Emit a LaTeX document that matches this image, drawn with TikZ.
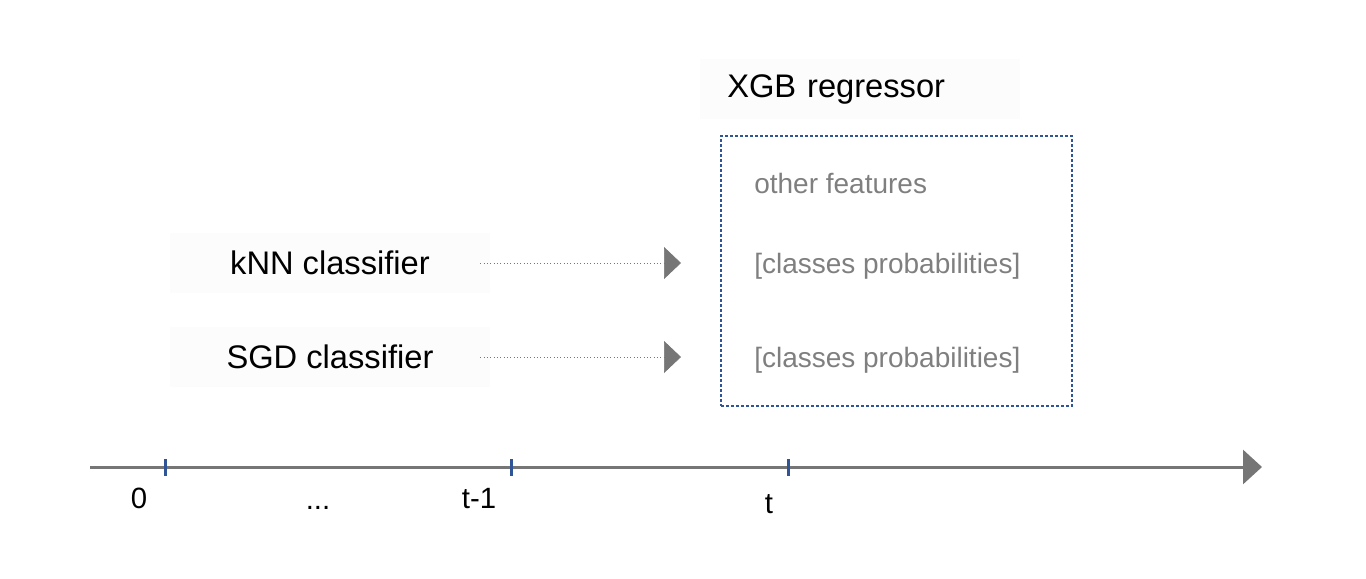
\documentclass[tikz,border=0pt]{standalone}
\usepackage{fontspec}
\setmainfont{Liberation Sans}
\usetikzlibrary{arrows.meta}

\definecolor{axisgrey}{HTML}{767676}
\definecolor{textgrey}{HTML}{7F7F7F}
\definecolor{tickblue}{HTML}{2F5597}
\definecolor{faint}{HTML}{FCFCFD}

\begin{document}
\begin{tikzpicture}[x=0.75pt,y=-0.75pt]
        \tikzset{model/.style = {fill=faint,inner sep=0pt,minimum height=45pt,font=\fontsize{24.5}{28}\selectfont}};
        \tikzset{feat/.style = {anchor=base west,inner sep=0pt,text=textgrey,font=\fontsize{21}{24}\selectfont}};
        \tikzset{tlabel/.style = {anchor=base,inner sep=0pt,font=\fontsize{22}{26}\selectfont}};
        \tikzset{feed/.style = {draw=axisgrey,dotted,line width=0.5pt,-{Triangle[length=12.75pt,width=24pt]},shorten <=-7.5pt,shorten >=54.75pt}};
        \tikzset{axis/.style = {draw=axisgrey,line width=2.25pt,-{Triangle[length=14.25pt,width=25.5pt]}}};
        \useasboundingbox (0,0) rectangle (1366,578);
        % models
        \node[model,minimum width=240pt] (knn) at (330,263) {kNN classifier};
        \node[model,minimum width=240pt] (sgd) at (330,357) {SGD classifier};
        \node[model,anchor=west,inner xsep=20.25pt,text width=199.5pt] (xgb) at (700,89) {XGB regressor};
        % regressor inputs
        \node[draw=tickblue,line width=0.9pt,dash pattern=on 2.25pt off 1.5pt,minimum width=263.25pt,minimum height=202.5pt] (box) at (896.5,271) {};
        \node[feat] (other) at (754,193) {other features};
        \node[feat] (prob1) at (754,273) {[classes probabilities]};
        \node[feat] (prob2) at (754,367) {[classes probabilities]};
        \draw[feed] (knn.east) -- (knn.east -| prob1.west);
        \draw[feed] (sgd.east) -- (sgd.east -| prob2.west);
        % time axis
        \coordinate (tstart) at (90,467);
        \coordinate (tend) at (1262,467);
        \draw[axis] (tstart) -- (tend);
        \foreach \x in {165,511,788}
            \draw[tickblue,line width=2.25pt] (\x,459) -- (\x,476);
        \node[tlabel] (t0) at (139,508) {0};
        \node[tlabel] (tdots) at (318,509) {...};
        \node[tlabel] (tprev) at (479,508) {t-1};
        \node[tlabel] (tnow) at (769,513) {t};
\end{tikzpicture}
\end{document}
